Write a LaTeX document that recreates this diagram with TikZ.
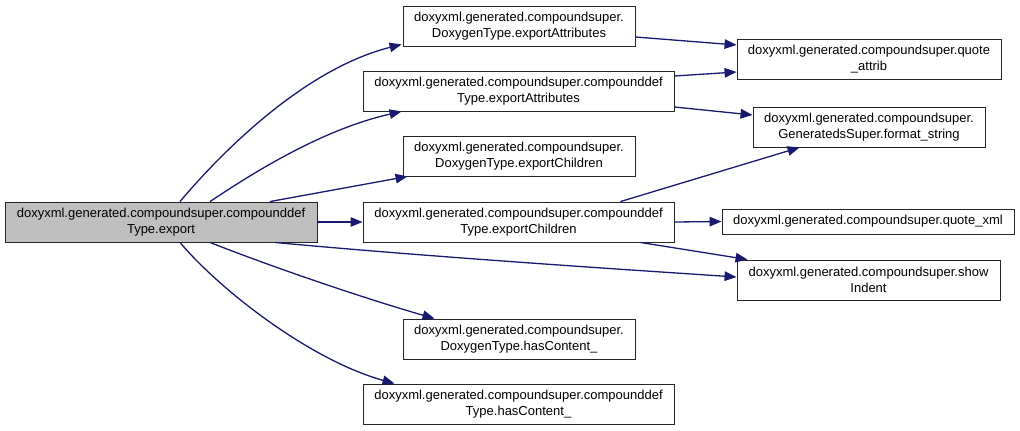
\documentclass[tikz,border=0pt]{standalone}
\usepackage{fontspec}
\setmainfont{Liberation Sans}
\usetikzlibrary{arrows.meta}
\definecolor{edgeblue}{RGB}{25,25,112}
\definecolor{mainfill}{RGB}{191,191,191}
\begin{document}
\begin{tikzpicture}[x=1pt,y=-1pt,
  box/.style={draw=black!85, line width=0.9pt, fill=white, align=center,
    font=\fontsize{13}{15.7}\selectfont, inner sep=0pt, minimum height=40pt},
  edge/.style={draw=edgeblue, line width=1.3pt, -{Triangle[length=12pt,width=9.5pt]}, fill=none}]
\useasboundingbox (0,0) rectangle (1020,431);
\node[box, fill=mainfill, minimum width=312pt] (main) at (161,222) {doxyxml.generated.compoundsuper.compounddef\\Type.export};
\node[box, minimum width=232pt] (n1) at (519,26) {doxyxml.generated.compoundsuper.\\DoxygenType.exportAttributes};
\node[box, minimum width=311pt] (n2) at (518.5,91) {doxyxml.generated.compoundsuper.compounddef\\Type.exportAttributes};
\node[box, minimum width=232pt] (n3) at (519,156) {doxyxml.generated.compoundsuper.\\DoxygenType.exportChildren};
\node[box, minimum width=311pt] (n4) at (518.5,222) {doxyxml.generated.compoundsuper.compounddef\\Type.exportChildren};
\node[box, minimum width=232pt] (n5) at (519,339) {doxyxml.generated.compoundsuper.\\DoxygenType.hasContent\_};
\node[box, minimum width=311pt] (n6) at (518.5,404) {doxyxml.generated.compoundsuper.compounddef\\Type.hasContent\_};
\node[box, minimum width=264pt] (r1) at (869,59) {doxyxml.generated.compoundsuper.quote\\\_attrib};
\node[box, minimum width=232pt] (r2) at (869,127) {doxyxml.generated.compoundsuper.\\GeneratedsSuper.format\_string};
\node[box, minimum width=292pt, minimum height=25pt] (r3) at (868,221.5) {doxyxml.generated.compoundsuper.quote\_xml};
\node[box, minimum width=263pt] (r4) at (868.5,280) {doxyxml.generated.compoundsuper.show\\Indent};

\draw[edge] ([xshift=19pt]main.north) .. controls (215,160) and (300,70) .. ([xshift=-1pt,yshift=2pt]n1.south west);
\draw[edge] ([xshift=49pt]main.north) .. controls (250,175) and (320,130) .. ([xshift=39pt]n2.south west);
\draw[edge] ([xshift=109pt]main.north) -- ([xshift=5pt]n3.south west);
\draw[edge] (main.east) -- (n4.west);
\draw[edge] ([xshift=114pt]main.south) .. controls (420,256) and (600,268) .. ([yshift=3pt]r4.west);
\draw[edge] ([xshift=49pt]main.south) .. controls (280,270) and (370,300) .. ([xshift=32pt]n5.north west);
\draw[edge] ([xshift=19pt]main.south) .. controls (220,290) and (310,360) .. ([xshift=32pt]n6.north west);

\draw[edge] ([yshift=-11pt]n1.east) -- ([yshift=14pt]r1.west);
\draw[edge] ([yshift=15pt]n2.east) -- ([yshift=-13pt]r1.west);
\draw[edge] ([yshift=-16pt]n2.east) -- ([yshift=12pt]r2.west);
\draw[edge] ([xshift=-54pt]n4.north east) -- ([xshift=47pt]r2.south west);
\draw[edge] (n4.east) -- (r3.west);
\draw[edge] ([xshift=-34pt]n4.south east) -- ([xshift=11pt]r4.north west);
\end{tikzpicture}
\end{document}
